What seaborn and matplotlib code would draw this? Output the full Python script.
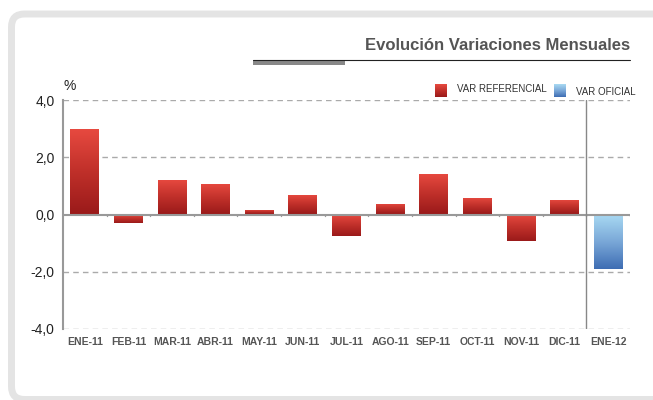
import numpy as np
import pandas as pd
import matplotlib
matplotlib.use("Agg")
import matplotlib.pyplot as plt
import seaborn as sns
from matplotlib.patches import FancyBboxPatch, Rectangle
from matplotlib.colors import LinearSegmentedColormap
from matplotlib.transforms import IdentityTransform

categories = ["ENE-11", "FEB-11", "MAR-11", "ABR-11", "MAY-11", "JUN-11", "JUL-11",
              "AGO-11", "SEP-11", "OCT-11", "NOV-11", "DIC-11", "ENE-12"]
values = [3.0, -0.3, 1.22, 1.05, 0.15, 0.67, -0.76, 0.35, 1.43, 0.56, -0.93, 0.52, -1.89]
series = ["VAR REFERENCIAL"] * 12 + ["VAR OFICIAL"]
yticks = [-4, -2, 0, 2, 4]
ytick_labels = ["-4,0", "-2,0", "0,0", "2,0", "4,0"]
title = "Evolución Variaciones Mensuales"

df = pd.DataFrame({"cat": categories, "val": values, "serie": series})

sns.set_theme(style="white")
plt.rcParams["font.family"] = ["Liberation Sans Narrow", "Liberation Sans", "DejaVu Sans"]

fig = plt.figure(figsize=(6.53, 4.0), dpi=100)
fig.patch.set_facecolor("white")

# frame (pixel coordinates)
frame = FancyBboxPatch((11.5, 0.5), 800, 385.5,
                       boxstyle="round,pad=0,rounding_size=13",
                       transform=IdentityTransform(), facecolor="white",
                       edgecolor="#e4e4e4", linewidth=5, zorder=-10)
fig.patches.append(frame)

ax = fig.add_axes([63 / 653, 1 - 329 / 400, (630 - 63) / 653, (329 - 100) / 400])
ax.set_facecolor("none")
ax.set_zorder(2)

palette = {"VAR REFERENCIAL": "#b22222", "VAR OFICIAL": "#6a9fd4"}
sns.barplot(data=df, x="cat", y="val", hue="serie", palette=palette, dodge=False,
            width=0.66, ax=ax, legend=False, saturation=1)

red_cmap = LinearSegmentedColormap.from_list("r", ["#9a1a1a", "#c0302a", "#e84a40"])
blue_cmap = LinearSegmentedColormap.from_list("b", ["#3e6db3", "#7aa8d8", "#a9daf3"])
grad = np.linspace(0, 1, 256).reshape(-1, 1)
for p in list(ax.patches):
    x0, y0 = p.get_x(), p.get_y()
    w, h = p.get_width(), p.get_height()
    if w == 0 or h == 0 or np.isnan(h):
        continue
    fc = p.get_facecolor()
    cmap = blue_cmap if fc[2] > fc[0] else red_cmap
    ylo, yhi = min(y0, y0 + h), max(y0, y0 + h)
    im = ax.imshow(grad, extent=[x0, x0 + w, ylo, yhi], origin="lower",
                   cmap=cmap, aspect="auto", zorder=3)
    im.set_clip_path(p)
    p.set_facecolor("none")
    p.set_edgecolor("none")
ax.set_xlim(-0.5, len(categories) - 0.5)
ax.set_ylim(-4, 4)

# grid
for yv in [4, 2, -2, -4]:
    ax.axhline(yv, color="#aaaaaa", linestyle=(0, (4, 3)), linewidth=1, zorder=1)
ax.axhline(0, color="#999999", linewidth=1.5, zorder=4)
for i in range(1, len(categories) + 1):
    ax.plot([i - 0.5, i - 0.5], [0, -0.06], color="#999999", linewidth=1, zorder=4)
ax.axvline(len(categories) - 1.5, color="#888888", linewidth=1, zorder=4)

for s in ["top", "right", "bottom"]:
    ax.spines[s].set_visible(False)
ax.spines["left"].set_color("#999999")
ax.spines["left"].set_linewidth(1.5)

ax.set_yticks(yticks)
ax.set_yticklabels(ytick_labels, fontsize=10, color="#222222",
                   family=["Liberation Sans", "DejaVu Sans"])
ax.tick_params(axis="y", length=0, pad=6)
ax.tick_params(axis="x", length=0, pad=6)
ax.set_xticks(range(len(categories)))
ax.set_xticklabels(categories, fontsize=7.5, color="#555555", fontweight="bold")
ax.set_xlabel("")
ax.set_ylabel("")
ax.text(0.0, 1.03, "%", transform=ax.transAxes, fontsize=10, color="#222222",
        family=["Liberation Sans", "DejaVu Sans"], va="bottom", ha="left")

# title
fig.text(630 / 653, 1 - 45 / 400, title, ha="right", va="center", fontsize=12,
         fontweight="bold", color="#555555")
fig.add_artist(plt.Line2D([253 / 653, 630 / 653], [1 - 60 / 400] * 2,
                          transform=fig.transFigure, color="#222222", linewidth=0.8))
fig.patches.append(Rectangle((253 / 653, 1 - 65 / 400), (345 - 253) / 653, 5 / 400,
                             transform=fig.transFigure, facecolor="#888888",
                             edgecolor="none"))

# legend
def legend_item(x, ytxt, label, cmap):
    axl = fig.add_axes([x / 653, 1 - 97 / 400, 12 / 653, 13 / 400])
    axl.imshow(grad, origin="lower", cmap=cmap, aspect="auto")
    axl.set_axis_off()
    fig.text((x + 22) / 653, 1 - ytxt / 400, label, ha="left", va="center",
             fontsize=7, color="#333333")

legend_item(435, 89, "VAR REFERENCIAL", red_cmap)
legend_item(554, 92, "VAR OFICIAL", blue_cmap)

fig.savefig("out.png", dpi=100)
